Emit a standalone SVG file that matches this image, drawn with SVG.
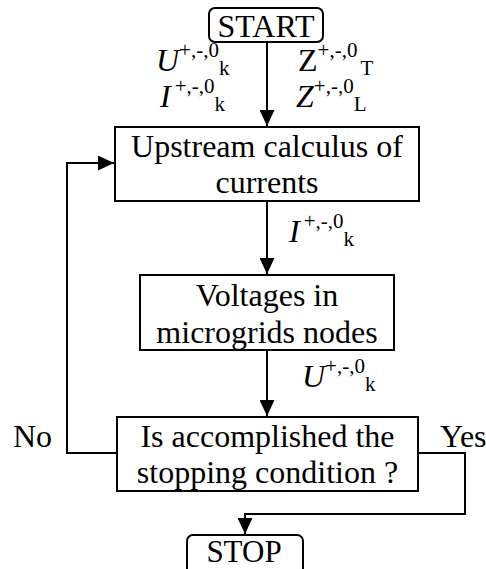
<svg xmlns="http://www.w3.org/2000/svg" width="486" height="569" viewBox="0 0 486 569">
<defs>
<style>
text{font-family:"Liberation Serif","Times New Roman",serif;font-size:32px;fill:#000}
.c{text-anchor:middle}
.i{font-style:italic}
.s{font-size:21px;font-style:normal}
.box{fill:#fff;stroke:#000;stroke-width:2}
.ln{fill:none;stroke:#000;stroke-width:2}
</style>
<marker id="ah" viewBox="0 0 16 15" refX="16" refY="7.5" markerWidth="16" markerHeight="15" markerUnits="userSpaceOnUse" orient="auto">
<path d="M0,0 L16,7.5 L0,15 Z" fill="#000"/>
</marker>
</defs>
<rect width="486" height="569" fill="#fff"/>
<g id="connectors">
<path class="ln" d="M267,42 V126" marker-end="url(#ah)"/>
<path class="ln" d="M267,201 V274" marker-end="url(#ah)"/>
<path class="ln" d="M267,350 V416" marker-end="url(#ah)"/>
<path class="ln" d="M117,453 H67 V163 H114" marker-end="url(#ah)"/>
<path class="ln" d="M418,453 H465 V514 H245 V534" marker-end="url(#ah)"/>
</g>
<g id="start">
<rect class="box" x="209" y="8" width="114" height="34" rx="6"/>
<text class="c" x="266" y="37">START</text>
</g>
<g id="labels-in">
<text x="156" y="71"><tspan class="i">U</tspan><tspan class="s" dy="-14">+,-,0</tspan><tspan class="s" dy="18">k</tspan></text>
<text x="160" y="107"><tspan class="i">I</tspan><tspan class="s" dy="-14" dx="4">+,-,0</tspan><tspan class="s" dy="18">k</tspan></text>
<text x="298" y="71">Z<tspan class="s" dy="-14">+,-,0</tspan><tspan class="s" dy="18" dx="3">T</tspan></text>
<text x="296" y="107"><tspan class="i">Z</tspan><tspan class="s" dy="-14">+,-,0</tspan><tspan class="s" dy="18">L</tspan></text>
</g>
<g id="upstream">
<rect class="box" x="115" y="127" width="304" height="74"/>
<text class="c" x="267" y="157">Upstream calculus of</text>
<text class="c" x="267" y="193">currents</text>
</g>
<g id="label-i">
<text x="289" y="242"><tspan class="i">I</tspan><tspan class="s" dy="-14" dx="4">+,-,0</tspan><tspan class="s" dy="18">k</tspan></text>
</g>
<g id="voltages">
<rect class="box" x="140" y="275" width="254" height="75"/>
<text class="c" x="267" y="306">Voltages in</text>
<text class="c" x="267" y="343">microgrids nodes</text>
</g>
<g id="label-u">
<text x="302" y="387"><tspan class="i">U</tspan><tspan class="s" dy="-14">+,-,0</tspan><tspan class="s" dy="18">k</tspan></text>
</g>
<g id="decision">
<rect class="box" x="117" y="417" width="301" height="74"/>
<text class="c" x="267.5" y="447">Is accomplished the</text>
<text class="c" x="267.5" y="483">stopping condition ?</text>
</g>
<g id="branch-labels">
<text x="13" y="447">No</text>
<text x="440" y="447">Yes</text>
</g>
<g id="stop">
<rect class="box" x="187" y="535" width="116" height="44" rx="6"/>
<text class="c" x="244" y="562" style="font-size:31px">STOP</text>
</g>
</svg>
